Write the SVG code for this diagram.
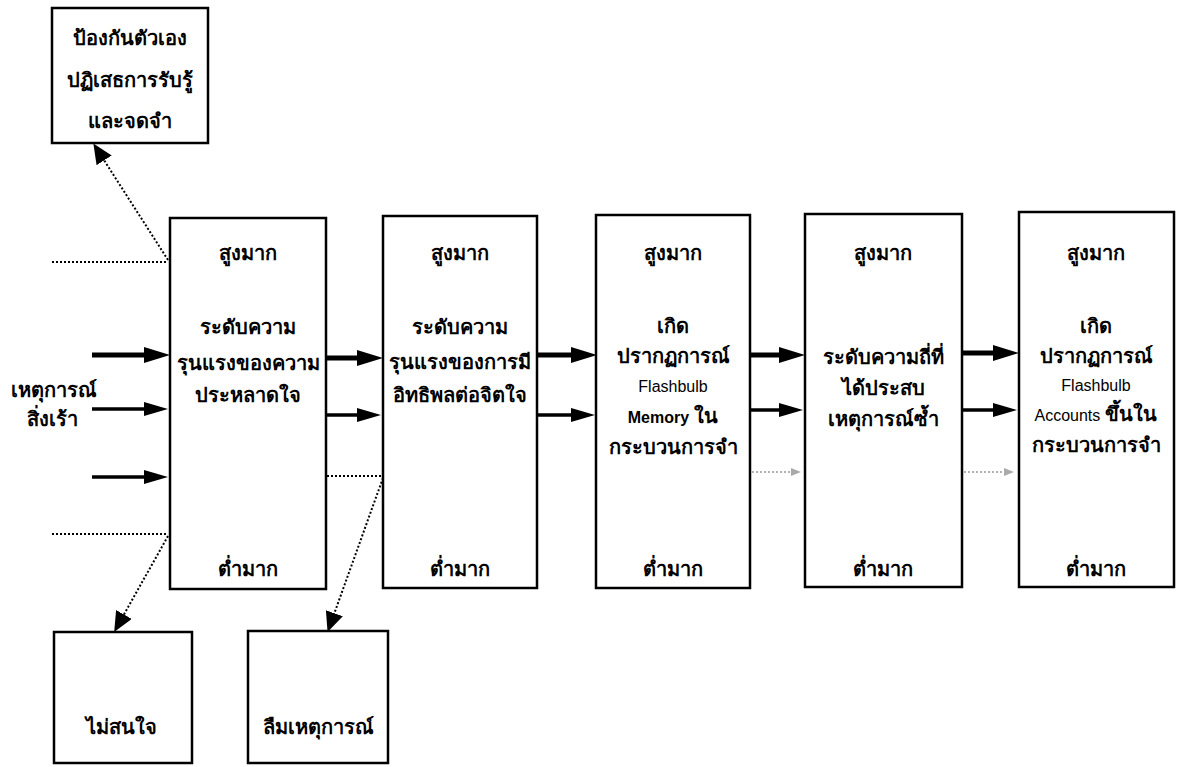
<svg xmlns="http://www.w3.org/2000/svg" width="1179" height="767" viewBox="0 0 1179 767">
<style>
.box{fill:#fff;stroke:#000;stroke-width:2.5}
.t{font-family:'Noto Sans','DejaVu Sans','Liberation Sans',sans-serif;font-weight:bold;font-size:20px;fill:#000;text-anchor:middle}
.en{font-family:'Liberation Sans',Arial,sans-serif;font-weight:normal;font-size:16px}
.enb{font-family:'Liberation Sans',Arial,sans-serif;font-weight:bold;font-size:16px}
.thick{stroke:#000;stroke-width:5;fill:none}
.mid{stroke:#000;stroke-width:3.5;fill:none}
.dot{stroke:#000;stroke-width:2;stroke-dasharray:2,2;fill:none}
.gdot{stroke:#999;stroke-width:1.5;stroke-dasharray:2,2;fill:none}
</style>
<defs>
<marker id="ah" markerUnits="userSpaceOnUse" markerWidth="26" markerHeight="16" viewBox="0 0 26 16" refX="12" refY="8" orient="auto"><path d="M0,0 L26,8 L0,16 z" fill="#000"/></marker>
<marker id="ahs" markerUnits="userSpaceOnUse" markerWidth="24" markerHeight="14" viewBox="0 0 24 14" refX="12" refY="7" orient="auto"><path d="M0,0 L24,7 L0,14 z" fill="#000"/></marker>
<marker id="ahd" markerUnits="userSpaceOnUse" markerWidth="20" markerHeight="18" viewBox="0 0 20 18" refX="4" refY="9" orient="auto"><path d="M0,0 L20,9 L0,18 z" fill="#000"/></marker>
<marker id="ahg" markerUnits="userSpaceOnUse" markerWidth="10" markerHeight="8" viewBox="0 0 10 8" refX="4" refY="4" orient="auto"><path d="M0,0 L10,4 L0,8 z" fill="#aaa"/></marker>
</defs>
<rect width="1179" height="767" fill="#fff"/>

<g id="connectors">
<line class="dot" x1="52" y1="262" x2="168" y2="262"/>
<line class="dot" x1="168" y1="260" x2="102" y2="157" marker-end="url(#ahd)"/>
<line class="dot" x1="52" y1="534" x2="168" y2="534"/>
<line class="dot" x1="168" y1="536" x2="122" y2="618" marker-end="url(#ahd)"/>
<line class="dot" x1="327" y1="476" x2="383" y2="476"/>
<line class="dot" x1="383" y1="478" x2="333" y2="617" marker-end="url(#ahd)"/>

<line class="thick" x1="92" y1="355" x2="156" y2="355" marker-end="url(#ah)"/>
<line class="mid" x1="92" y1="409" x2="156" y2="409" marker-end="url(#ahs)"/>
<line class="mid" x1="92" y1="477" x2="156" y2="477" marker-end="url(#ahs)"/>

<line class="thick" x1="327" y1="358" x2="369" y2="358" marker-end="url(#ah)"/>
<line class="mid" x1="327" y1="415" x2="369" y2="415" marker-end="url(#ahs)"/>

<line class="thick" x1="537" y1="355" x2="583" y2="355" marker-end="url(#ah)"/>
<line class="mid" x1="537" y1="415" x2="583" y2="415" marker-end="url(#ahs)"/>

<line class="thick" x1="750" y1="355" x2="791" y2="355" marker-end="url(#ah)"/>
<line class="mid" x1="750" y1="410" x2="791" y2="410" marker-end="url(#ahs)"/>

<line class="thick" x1="962" y1="353" x2="1005" y2="353" marker-end="url(#ah)"/>
<line class="mid" x1="962" y1="410" x2="1005" y2="410" marker-end="url(#ahs)"/>

<line class="gdot" x1="752" y1="472" x2="795" y2="472" marker-end="url(#ahg)"/>
<line class="gdot" x1="964" y1="472" x2="1008" y2="472" marker-end="url(#ahg)"/>
</g>

<g id="defend">
<rect class="box" x="52" y="8" width="156" height="135"/>
<text class="t" x="130" y="45">ป้องกันตัวเอง</text>
<text class="t" x="130" y="87">ปฏิเสธการรับรู้</text>
<text class="t" x="130" y="128">และจดจำ</text>
</g>

<g id="stimulus">
<text class="t" x="54" y="397">เหตุการณ์</text>
<text class="t" x="52" y="426">สิ่งเร้า</text>
</g>

<g id="box1">
<rect class="box" x="170" y="218" width="156" height="371"/>
<text class="t" x="248" y="260">สูงมาก</text>
<text class="t" x="248" y="334">ระดับความ</text>
<text class="t" x="248" y="370">รุนแรงของความ</text>
<text class="t" x="248" y="402">ประหลาดใจ</text>
<text class="t" x="248" y="576">ต่ำมาก</text>
</g>

<g id="box2">
<rect class="box" x="383" y="216" width="154" height="372"/>
<text class="t" x="460" y="260">สูงมาก</text>
<text class="t" x="460" y="334">ระดับความ</text>
<text class="t" x="460" y="369">รุนแรงของการมี</text>
<text class="t" x="460" y="402">อิทธิพลต่อจิตใจ</text>
<text class="t" x="460" y="576">ต่ำมาก</text>
</g>

<g id="box3">
<rect class="box" x="596" y="215" width="154" height="373"/>
<text class="t" x="673" y="260">สูงมาก</text>
<text class="t" x="673" y="333">เกิด</text>
<text class="t" x="673" y="363">ปรากฏการณ์</text>
<text class="t" x="673" y="392"><tspan class="en">Flashbulb</tspan></text>
<text class="t" x="673" y="423"><tspan class="enb">Memory</tspan> ใน</text>
<text class="t" x="673" y="454">กระบวนการจำ</text>
<text class="t" x="673" y="576">ต่ำมาก</text>
</g>

<g id="box4">
<rect class="box" x="805" y="214" width="157" height="373"/>
<text class="t" x="883" y="260">สูงมาก</text>
<text class="t" x="883" y="364">ระดับความถี่ที่</text>
<text class="t" x="883" y="395">ได้ประสบ</text>
<text class="t" x="883" y="426">เหตุการณ์ซ้ำ</text>
<text class="t" x="883" y="576">ต่ำมาก</text>
</g>

<g id="box5">
<rect class="box" x="1019" y="212" width="155" height="375"/>
<text class="t" x="1096" y="260">สูงมาก</text>
<text class="t" x="1096" y="333">เกิด</text>
<text class="t" x="1096" y="363">ปรากฏการณ์</text>
<text class="t" x="1096" y="391"><tspan class="en">Flashbulb</tspan></text>
<text class="t" x="1096" y="421"><tspan class="en">Accounts</tspan> ขึ้นใน</text>
<text class="t" x="1096" y="452">กระบวนการจำ</text>
<text class="t" x="1096" y="576">ต่ำมาก</text>
</g>

<g id="ignore">
<rect class="box" x="54" y="632" width="138" height="131"/>
<text class="t" x="121" y="734">ไม่สนใจ</text>
</g>

<g id="forget">
<rect class="box" x="248" y="631" width="140" height="132"/>
<text class="t" x="318" y="734">ลืมเหตุการณ์</text>
</g>
</svg>
